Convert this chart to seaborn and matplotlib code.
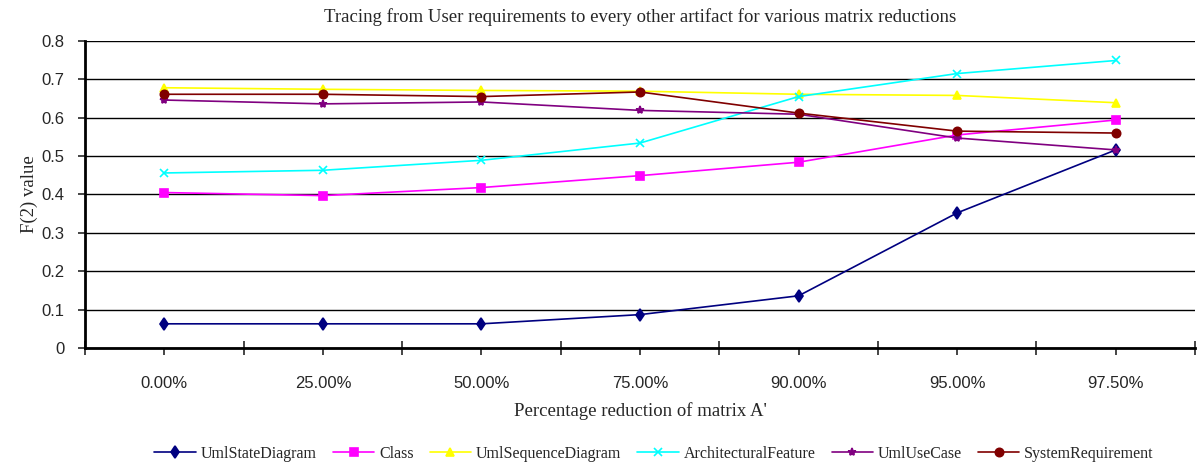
import matplotlib
matplotlib.use("Agg")
import matplotlib.pyplot as plt
import numpy as np
import pandas as pd
import seaborn as sns

# --- data ---
reductions = ["0.00%", "25.00%", "50.00%", "75.00%", "90.00%", "95.00%", "97.50%"]
uml_state_diagram = [0.063, 0.063, 0.063, 0.087, 0.136, 0.352, 0.516]
class_vals = [0.405, 0.397, 0.418, 0.449, 0.484, 0.555, 0.594]
uml_sequence_diagram = [0.678, 0.674, 0.671, 0.669, 0.661, 0.658, 0.639]
architectural_feature = [0.456, 0.463, 0.489, 0.534, 0.655, 0.715, 0.749]
uml_use_case = [0.646, 0.636, 0.641, 0.619, 0.609, 0.547, 0.516]
system_requirement = [0.661, 0.661, 0.655, 0.667, 0.612, 0.565, 0.560]

series_names = ["UmlStateDiagram", "Class", "UmlSequenceDiagram",
                "ArchitecturalFeature", "UmlUseCase", "SystemRequirement"]
series_values = [uml_state_diagram, class_vals, uml_sequence_diagram,
                 architectural_feature, uml_use_case, system_requirement]

rows = []
for name, vals in zip(series_names, series_values):
    for i, v in enumerate(vals):
        rows.append({"pos": i, "reduction": reductions[i], "series": name, "value": v})
df = pd.DataFrame(rows)

colors = ["#000080", "#FF00FF", "#FFFF00", "#00FFFF", "#800080", "#800000"]
marker_list = ["d", "s", "^", "x", "*", "o"]

sns.set_style("white")
plt.rcParams["font.family"] = ["Liberation Serif", "DejaVu Serif"]
plt.rcParams["font.size"] = 12

tick_font = {"family": "Liberation Sans", "size": 12}

fig = plt.figure(figsize=(11.98, 4.65), dpi=100)
ax = fig.add_axes([0.071, 0.2516, 0.9265, 0.6604])

# one call per series (seaborn refuses to mix filled and line-art markers)
for name, col, mk in zip(series_names, colors, marker_list):
    sns.lineplot(data=df[df["series"] == name], x="pos", y="value", color=col,
                 marker=mk, markersize=6, markeredgewidth=1.2, markeredgecolor=col,
                 linewidth=1.2, label=name, ax=ax)

ax.set_xlim(-0.5, len(reductions) - 0.5)
ax.set_ylim(0, 0.8)
ax.set_yticks(np.arange(0, 0.81, 0.1))
ax.set_yticklabels(["0", "0.1", "0.2", "0.3", "0.4", "0.5", "0.6", "0.7", "0.8"], fontdict=tick_font)
ax.yaxis.grid(True, color="black", linewidth=1.0)
ax.set_axisbelow(True)

# labels at category centres, long ticks at category boundaries
ax.set_xticks(range(len(reductions)))
ax.set_xticklabels(reductions, fontdict=tick_font)
ax.set_xticks(np.arange(-0.5, len(reductions), 1.0), minor=True)
ax.tick_params(axis="x", which="major", direction="out", length=5, width=1.2, pad=15)
ax.tick_params(axis="x", which="minor", direction="inout", length=10, width=1.2)
ax.tick_params(axis="y", which="major", direction="out", length=5, width=1.2, left=True, pad=10)
ax.tick_params(axis="x", which="both", bottom=True)

for side in ["top", "right"]:
    ax.spines[side].set_visible(False)
for side in ["left", "bottom"]:
    ax.spines[side].set_color("black")
    ax.spines[side].set_linewidth(2)

ax.set_xlabel("Percentage reduction of matrix A'", fontsize=13.5, labelpad=8)
ax.set_ylabel("F(2) value", fontsize=13.5, labelpad=2)
fig.text(0.534, 0.963, "Tracing from User requirements to every other artifact for various matrix reductions",
         ha="center", va="center", fontsize=13.5)

handles, labels = ax.get_legend_handles_labels()
ax.get_legend().remove()
fig.legend(handles, labels, loc="center", bbox_to_anchor=(0.546, 0.024), ncol=6,
           frameon=False, handlelength=2.6, columnspacing=1.0, handletextpad=0.3, fontsize=11.5)

fig.savefig("out.png", dpi=100)
